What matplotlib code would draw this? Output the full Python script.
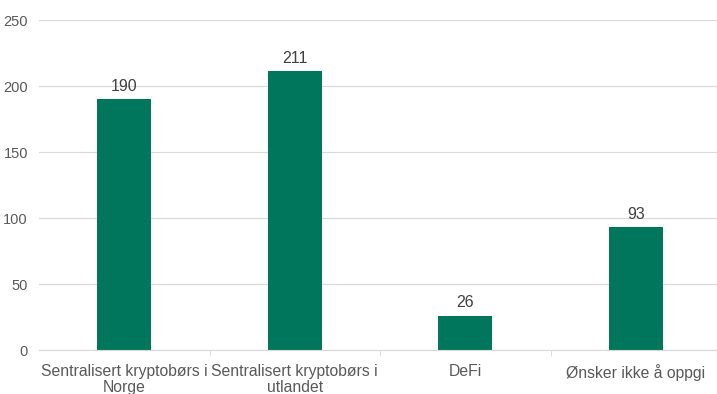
import matplotlib
matplotlib.use("Agg")
import matplotlib.pyplot as plt
from matplotlib.ticker import FixedLocator

categories = ["Sentralisert kryptobørs i\nNorge", "Sentralisert kryptobørs i\nutlandet", "DeFi", "Ønsker ikke å oppgi"]
values = [190, 211, 26, 93]
yticks = [0, 50, 100, 150, 200, 250]

plt.rcParams['font.family'] = ['Liberation Sans', 'DejaVu Sans']
fig = plt.figure(figsize=(7.17, 3.94), dpi=100)
ax = fig.add_axes([39/717, 1-350/394, (721-39)/717, 330/394])

x = list(range(len(categories)))
bars = ax.bar(x, values, width=0.315, color="#00775C", zorder=3)
for xi, v in zip(x, values):
    ax.text(xi, v + 4, str(v), ha="center", va="bottom", fontsize=11.5, color="#404040")

ax.set_xlim(-0.5, len(categories) - 0.5)
ax.set_ylim(0, 250)
ax.set_yticks(yticks)
ax.yaxis.grid(True, color="#d9d9d9", linewidth=0.9, zorder=0)
ax.set_xticks(x)
ax.set_xticklabels(categories, fontsize=11.3, color="#595959", linespacing=1.08)
ax.xaxis.set_minor_locator(FixedLocator([0.5, 1.5, 2.5]))
ax.tick_params(axis="x", which="major", length=0, pad=10)
ax.tick_params(axis="x", which="minor", length=4, color="#d9d9d9")
ax.tick_params(axis="y", length=0, labelsize=10.5, labelcolor="#595959", pad=8)
for s in ["top", "right", "left"]:
    ax.spines[s].set_visible(False)
ax.spines["bottom"].set_color("#d9d9d9")
ax.spines["bottom"].set_zorder(4)

fig.savefig("out.png", dpi=100)
